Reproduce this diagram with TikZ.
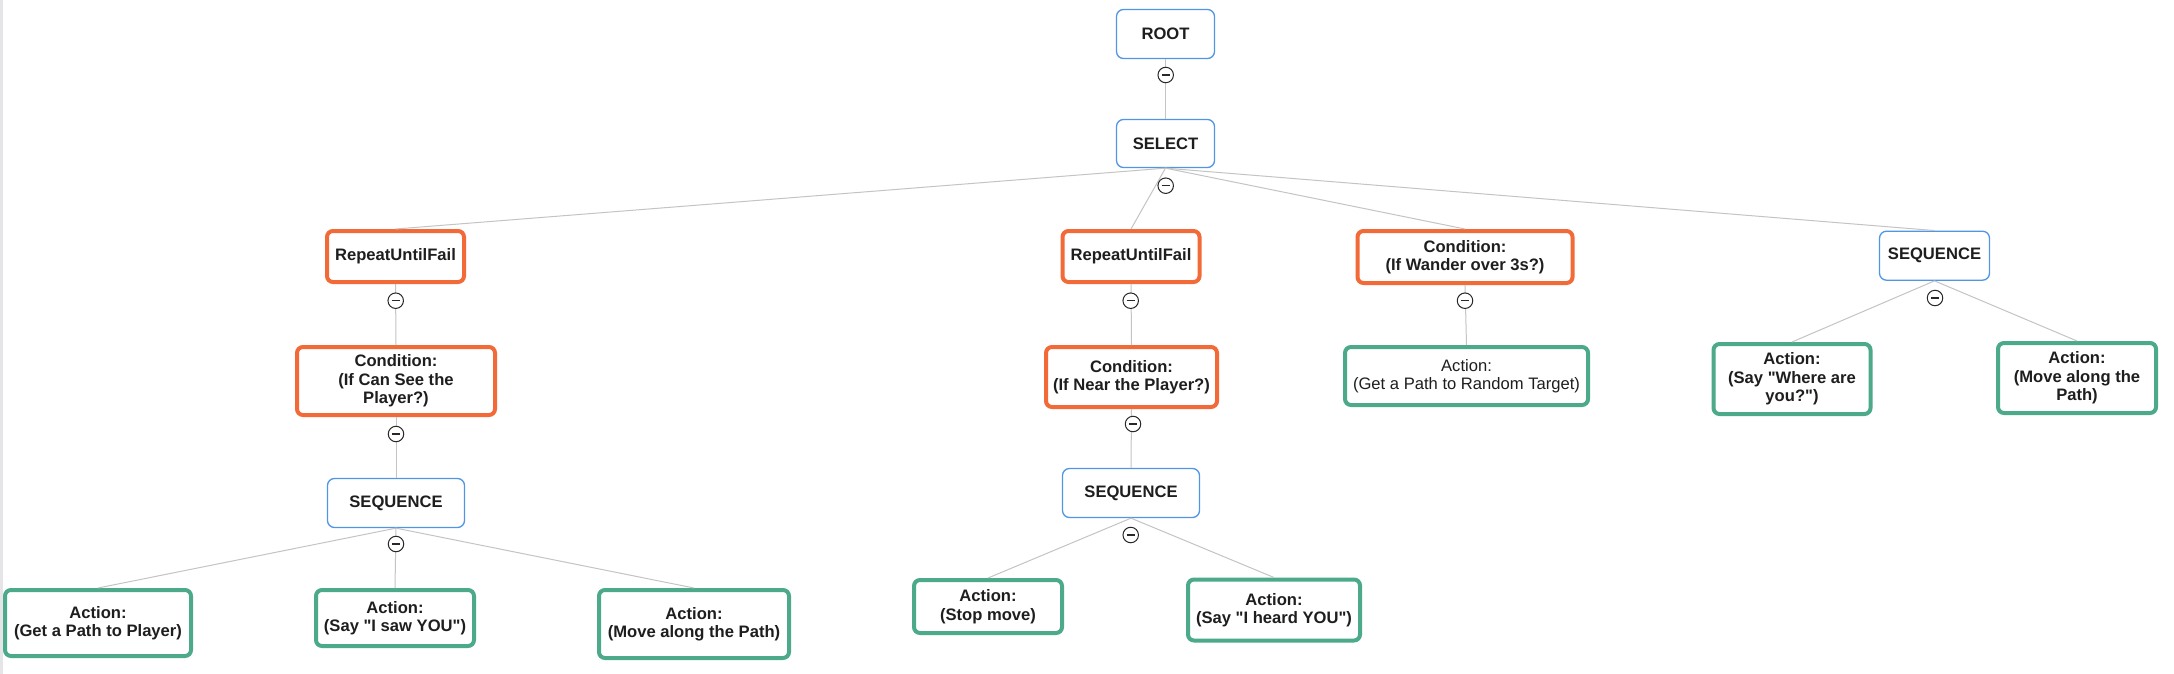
\documentclass[tikz,border=0pt]{standalone}
\usepackage{fontspec}
\setmainfont{Liberation Sans}[Ligatures=TeXOff]
\definecolor{nblue}{RGB}{80,150,228}
\definecolor{norange}{RGB}{242,106,56}
\definecolor{ngreen}{RGB}{76,170,138}
\definecolor{lgray}{RGB}{196,196,196}
\definecolor{tgray}{RGB}{40,40,40}
\definecolor{txt}{RGB}{30,30,30}
\definecolor{stripgray}{RGB}{229,229,232}
\begin{document}
\begin{tikzpicture}[x=1pt,y=-1pt,
  base/.style={rectangle, fill=white, align=center, text=txt, inner sep=0pt,
    font=\fontsize{16.6}{18.5}\selectfont\bfseries},
  bluebox/.style={base, draw=nblue, line width=1.3pt, rounded corners=7pt},
  orangebox/.style={base, draw=norange, line width=4pt, rounded corners=6pt},
  greenbox/.style={base, draw=ngreen, line width=4pt, rounded corners=6pt},
  conn/.style={draw=lgray, line width=1pt},
  toggle/.style={circle, draw=tgray, fill=white, line width=1pt, minimum size=15.5pt, inner sep=0pt,
    path picture={\draw[line width=1.2pt, tgray] ([xshift=-4.2pt]path picture bounding box.center) -- ([xshift=4.2pt]path picture bounding box.center);}}
]
\useasboundingbox (0,0) rectangle (2174,674);
\fill[white] (0,0) rectangle (2174,674);
\fill[stripgray] (0,0) rectangle (3,674);

% nodes
\node[bluebox, minimum width=98pt, minimum height=49pt] (root) at (1165.5,34) {ROOT};
\node[bluebox, minimum width=98pt, minimum height=48pt] (select) at (1165.5,143.5) {SELECT};

\node[orangebox, minimum width=137pt, minimum height=51pt] (rep1) at (395.5,256.5) {RepeatUntilFail};
\node[orangebox, minimum width=198pt, minimum height=68pt] (cond1) at (396,381) {Condition:\\(If Can See the\\Player?)};
\node[bluebox, minimum width=137pt, minimum height=49pt] (seq1) at (396,503) {SEQUENCE};
\node[greenbox, minimum width=186pt, minimum height=66pt] (act1) at (98,623) {Action:\\(Get a Path to Player)};
\node[greenbox, minimum width=158pt, minimum height=56pt] (act2) at (395,618) {Action:\\(Say "I saw YOU")};
\node[greenbox, minimum width=190pt, minimum height=68pt] (act3) at (694,624) {Action:\\(Move along the Path)};

\node[orangebox, minimum width=137pt, minimum height=51pt] (rep2) at (1131,256.5) {RepeatUntilFail};
\node[orangebox, minimum width=171pt, minimum height=60pt] (cond2) at (1131.5,377) {Condition:\\(If Near the Player?)};
\node[bluebox, minimum width=137pt, minimum height=49pt] (seq2) at (1131,493) {SEQUENCE};
\node[greenbox, minimum width=148pt, minimum height=53pt] (act4) at (988,606.5) {Action:\\(Stop move)};
\node[greenbox, minimum width=172pt, minimum height=61pt] (act5) at (1274,610) {Action:\\(Say "I heard YOU")};

\node[orangebox, minimum width=215pt, minimum height=52pt] (cond3) at (1465,257) {Condition:\\(If Wander over 3s?)};
\node[greenbox, minimum width=243pt, minimum height=58pt, font=\fontsize{16.6}{18.5}\selectfont] (act6) at (1466.5,376) {Action:\\(Get a Path to Random Target)};

\node[bluebox, minimum width=110pt, minimum height=49pt] (seq3) at (1934.5,255.7) {SEQUENCE};
\node[greenbox, minimum width=157pt, minimum height=70pt] (act7) at (1792,379) {Action:\\(Say "Where are\\you?")};
\node[greenbox, minimum width=158pt, minimum height=70pt] (act8) at (2077,378) {Action:\\(Move along the\\Path)};

% connectors
\draw[conn] (root.south) -- (select.north);
\draw[conn] (select.south) -- (rep1.north);
\draw[conn] (select.south) -- (rep2.north);
\draw[conn] (select.south) -- (cond3.north);
\draw[conn] (select.south) -- (seq3.north);
\draw[conn] (rep1.south) -- (cond1.north);
\draw[conn] (cond1.south) -- (seq1.north);
\draw[conn] (seq1.south) -- (act1.north);
\draw[conn] (seq1.south) -- (act2.north);
\draw[conn] (seq1.south) -- (act3.north);
\draw[conn] (rep2.south) -- (cond2.north);
\draw[conn] (cond2.south) -- (seq2.north);
\draw[conn] (seq2.south) -- (act4.north);
\draw[conn] (seq2.south) -- (act5.north);
\draw[conn] (cond3.south) -- (act6.north);
\draw[conn] (seq3.south) -- (act7.north);
\draw[conn] (seq3.south) -- (act8.north);

% collapse toggles
\node[toggle] (t1) at (1165.7,75) {};
\node[toggle] (t2) at (1165.7,185.7) {};
\node[toggle] (t3) at (395.7,300.7) {};
\node[toggle] (t4) at (396,434) {};
\node[toggle] (t5) at (396,544) {};
\node[toggle] (t6) at (1130.7,300.7) {};
\node[toggle] (t7) at (1133,424) {};
\node[toggle] (t8) at (1130.7,535) {};
\node[toggle] (t9) at (1465,300.7) {};
\node[toggle] (t10) at (1935,298) {};
\end{tikzpicture}
\end{document}
